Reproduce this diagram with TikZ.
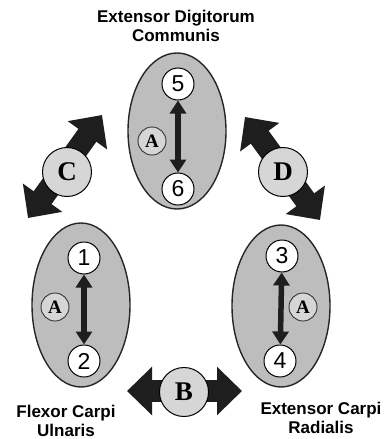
\documentclass[tikz,border=0pt]{standalone}
\usepackage{fontspec}
\setmainfont{Liberation Serif}
\setsansfont{Liberation Sans}
\usetikzlibrary{shapes.geometric,arrows.meta}
\definecolor{musclegray}{HTML}{BDBDBD}
\definecolor{lettergray}{HTML}{D6D6D6}
\definecolor{arrowdark}{HTML}{1E1E1E}

\begin{document}
\begin{tikzpicture}[x=1pt, y=-1pt,
	muscle/.style={ellipse, draw=black!85, line width=1.4pt, fill=musclegray, minimum width=98pt},
	num/.style={circle, draw=black, line width=1pt, fill=white, minimum size=32pt, inner sep=0pt, font=\sffamily\fontsize{23}{23}\selectfont},
	smallletter/.style={circle, draw=black!80, line width=0.9pt, fill=lettergray, minimum size=28pt, inner sep=0pt, font=\bfseries\fontsize{19}{19}\selectfont},
	bigletter/.style={circle, draw=black, line width=1pt, fill=lettergray, minimum size=49pt, inner sep=0pt, font=\bfseries\fontsize{27}{27}\selectfont},
	slide/.style={draw=arrowdark, line width=5.5pt, {Triangle[length=13pt,width=16pt]}-{Triangle[length=13pt,width=16pt]}},
	fatarrow/.style={draw=arrowdark, line width=22pt, {Triangle[length=25pt,width=47pt]}-{Triangle[length=25pt,width=47pt]}},
	muscletitle/.style={align=center, font=\sffamily\bfseries\fontsize{17}{19}\selectfont}]
				\useasboundingbox (0,0) rectangle (390,439);
				\node[muscletitle] (EDCname) at (176,26) {Extensor Digitorum\\Communis};
				\node[muscletitle] (FCUname) at (66,421) {Flexor Carpi\\Ulnaris};
				\node[muscletitle] (ECRname) at (321,418) {Extensor Carpi\\Radialis};
				\node[muscle, minimum height=156pt] (EDC) at (177,131) {};
				\node[muscle, minimum height=164pt] (FCU) at (81,305) {};
				\node[muscle, minimum height=162pt] (ECR) at (281,306) {};
				\node[smallletter] (A1) at (152,141) {A};
				\node[smallletter] (A2) at (55,307) {A};
				\node[smallletter] (A3) at (303,307) {A};
				\node[num] (5) at (178,84) {5};
				\node[num] (6) at (178,189) {6};
				\node[num] (1) at (84,258) {1};
				\node[num] (2) at (84,361) {2};
				\node[num] (3) at (282,256) {3};
				\node[num] (4) at (280,361) {4};
				\draw[slide] (5) -- (6);
				\draw[slide] (1) -- (2);
				\draw[slide] (3) -- (4);
				\coordinate (C1) at (28,218);
				\coordinate (C2) at (102,115);
				\coordinate (D1) at (245,117);
				\coordinate (D2) at (320,220);
				\coordinate (B1) at (127,391);
				\coordinate (B2) at (242,391);
				\draw[fatarrow] (C1) -- (C2);
				\draw[fatarrow] (D1) -- (D2);
				\draw[fatarrow] (B1) -- (B2);
				\node[bigletter] (C) at (67,172) {C};
				\node[bigletter] (D) at (283,172) {D};
				\node[bigletter] (B) at (184,392) {B};
			\end{tikzpicture}
\end{document}
